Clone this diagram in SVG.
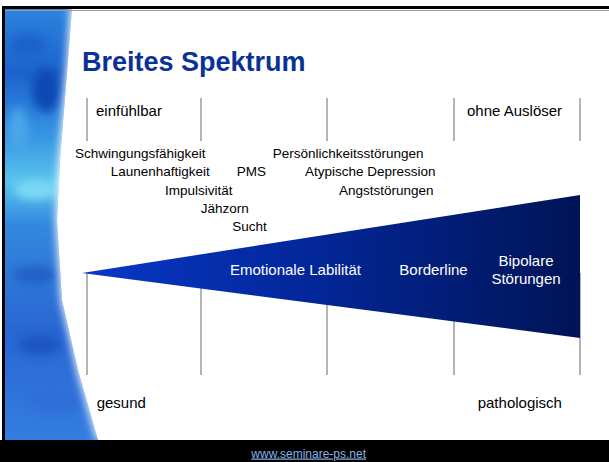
<svg xmlns="http://www.w3.org/2000/svg" width="609" height="462" viewBox="0 0 609 462">
  <defs>
    <linearGradient id="wedge" x1="0" y1="0" x2="1" y2="0">
      <stop offset="0" stop-color="#0838c8"/>
      <stop offset="0.45" stop-color="#03279a"/>
      <stop offset="1" stop-color="#001456"/>
    </linearGradient>
    <linearGradient id="side" x1="0" y1="0" x2="0" y2="1">
      <stop offset="0" style="stop-color:#2c84de"/>
      <stop offset="0.15" style="stop-color:#1c62cc"/>
      <stop offset="0.3" style="stop-color:#3898e4"/>
      <stop offset="0.4" style="stop-color:#58c4ee"/>
      <stop offset="0.5" style="stop-color:#3488de"/>
      <stop offset="0.75" style="stop-color:#2866d2"/>
      <stop offset="1" style="stop-color:#347ee0"/>
    </linearGradient>
    <filter id="soft" x="-0.5" y="-0.5" width="2" height="2">
      <feGaussianBlur stdDeviation="4"/>
    </filter>
    <style>
      .tick { stroke: #8c8c8c; stroke-width: 1.3; fill: none; }
      .lbl { font-family: "Liberation Sans", Arial, sans-serif; font-size: 15px; fill: #000; }
      .small { font-family: "Liberation Sans", Arial, sans-serif; font-size: 13.5px; fill: #000; }
      .inner { font-family: "Liberation Sans", Arial, sans-serif; font-size: 15px; fill: #ffffff; }
      .blob { filter: url(#soft); }
    </style>
  </defs>

  <rect x="0" y="0" width="609" height="462" fill="#ffffff"/>

  <!-- left decorative blurred strip -->
  <g id="decoration">
    <path d="M5,9 L72,9 L68,60 L60,160 L57,220 L62,300 L78,370 L98,440 L5,440 Z" fill="#2a7ad8"/>
    <path d="M5,9 L72,9 L68,60 L60,160 L57,220 L62,300 L78,370 L98,440 L5,440 Z" fill="url(#side)"/>
    <ellipse class="blob" cx="46" cy="90" rx="14" ry="22" fill="#0a48b4"/>
    <ellipse class="blob" cx="28" cy="45" rx="18" ry="12" fill="#1a62cc"/>
    <ellipse class="blob" cx="36" cy="190" rx="22" ry="10" fill="#7ad8f4"/>
    <ellipse class="blob" cx="35" cy="275" rx="22" ry="9" fill="#2460c8"/>
    <ellipse class="blob" cx="40" cy="345" rx="22" ry="10" fill="#1c56c2"/>
    <ellipse class="blob" cx="55" cy="400" rx="26" ry="12" fill="#2e6ed8"/>
    <ellipse class="blob" cx="18" cy="130" rx="10" ry="22" fill="#48a6ea"/>
    <path class="blob" d="M76,0 L72,60 L64,160 L61,220 L66,300 L82,370 L102,440" fill="none" stroke="#ffffff" stroke-width="10"/>
  </g>

  <!-- slide frame -->
  <rect x="0" y="440" width="609" height="22" fill="#000000"/>
  <rect x="3.5" y="7.5" width="620" height="436" fill="none" stroke="#000000" stroke-width="3"/>
  <line x1="5" y1="10.5" x2="609" y2="10.5" stroke="#9a9a9a" stroke-width="1"/>

  <g id="title">
    <text x="82" y="71" font-family="'Liberation Sans', Arial, sans-serif" font-size="27" font-weight="bold" fill="#0a3296">Breites Spektrum</text>
  </g>

  <!-- connectors: scale ticks -->
  <g id="connectors">
    <line class="tick" x1="87" y1="98" x2="87" y2="141"/>
    <line class="tick" x1="201" y1="98" x2="201" y2="141"/>
    <line class="tick" x1="327" y1="98" x2="327" y2="141"/>
    <line class="tick" x1="454" y1="98" x2="454" y2="141"/>
    <line class="tick" x1="580" y1="98" x2="580" y2="141"/>
    <line class="tick" x1="87" y1="273" x2="87" y2="375"/>
    <line class="tick" x1="201" y1="273" x2="201" y2="375"/>
    <line class="tick" x1="327" y1="273" x2="327" y2="375"/>
    <line class="tick" x1="454" y1="273" x2="454" y2="375"/>
    <line class="tick" x1="580" y1="273" x2="580" y2="375"/>
  </g>

  <g id="wedge-shape">
    <polygon points="82,273 580,195 580,338" fill="url(#wedge)"/>
  </g>

  <g id="top-labels">
    <text class="lbl" x="96" y="116">einfühlbar</text>
    <text class="lbl" x="467" y="116">ohne Auslöser</text>
  </g>

  <g id="examples-left">
    <text class="small" x="75" y="158">Schwingungsfähigkeit</text>
    <text class="small" x="110.7" y="176">Launenhaftigkeit</text>
    <text class="small" x="165" y="194.5">Impulsivität</text>
    <text class="small" x="200.7" y="212.5">Jähzorn</text>
    <text class="small" x="232.3" y="230.5">Sucht</text>
    <text class="small" x="236.7" y="176">PMS</text>
  </g>

  <g id="examples-right">
    <text class="small" x="272.7" y="158">Persönlichkeitsstörungen</text>
    <text class="small" x="305" y="176">Atypische Depression</text>
    <text class="small" x="339" y="194.5">Angststörungen</text>
  </g>

  <g id="wedge-labels">
    <text class="inner" x="230" y="275">Emotionale Labilität</text>
    <text class="inner" x="399.3" y="275">Borderline</text>
    <text class="inner" x="526" y="266" text-anchor="middle">Bipolare</text>
    <text class="inner" x="526" y="283.5" text-anchor="middle">Störungen</text>
  </g>

  <g id="bottom-labels">
    <text class="lbl" x="96.7" y="408">gesund</text>
    <text class="lbl" x="477.7" y="408">pathologisch</text>
  </g>

  <g id="footer">
    <text x="308.7" y="457.5" text-anchor="middle" font-family="'Liberation Sans', Arial, sans-serif" font-size="12" fill="#86b4e8" text-decoration="underline">www.seminare-ps.net</text>
  </g>
</svg>
